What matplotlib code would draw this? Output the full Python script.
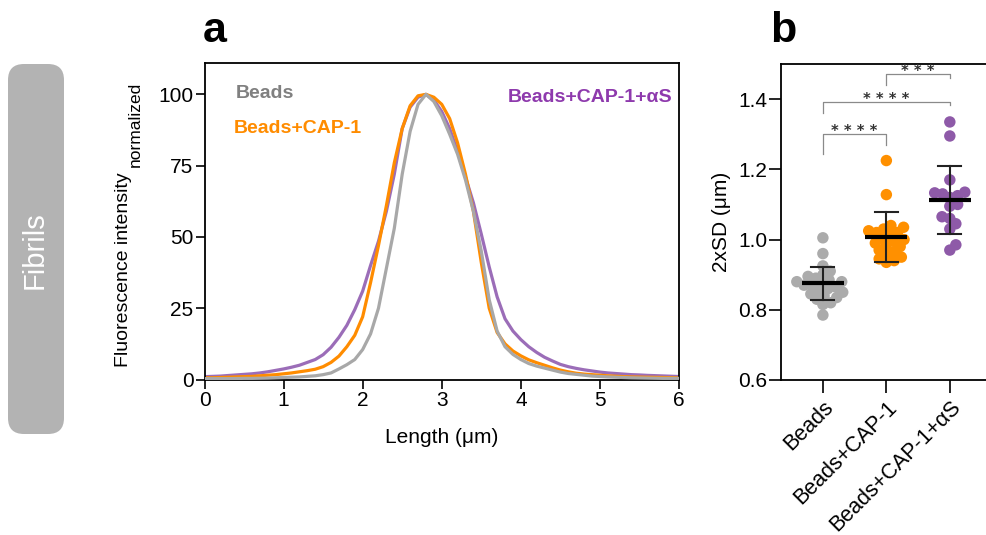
import numpy as np
import matplotlib
matplotlib.use("Agg")
import matplotlib.pyplot as plt
from matplotlib.patches import FancyBboxPatch
from matplotlib.transforms import IdentityTransform

plt.rcParams['font.family'] = ['Liberation Sans', 'DejaVu Sans']

# ---------------- data: panel a (line profiles) ----------------
length_um = [round(0.1 * i, 1) for i in range(61)]

beads = [0.3, 0.3, 0.3, 0.3, 0.35, 0.4, 0.4, 0.45, 0.5, 0.6,
         0.7, 0.8, 0.9, 1.1, 1.3, 1.7, 2.3, 3.7, 5.2, 7.0,
         10.5, 16, 25, 39, 53, 72, 87, 96.5, 100, 97.5,
         92.5, 86, 79, 70, 59, 45, 28, 17, 11.5, 8.8,
         7.0, 5.6, 4.7, 4.0, 3.3, 2.6, 2.1, 1.8, 1.5, 1.2,
         1.05, 0.9, 0.8, 0.7, 0.6, 0.55, 0.5, 0.45, 0.4, 0.4, 0.4]

beads_cap1 = [0.6, 0.6, 0.7, 0.8, 0.9, 1.0, 1.1, 1.3, 1.5, 1.7,
              2.0, 2.3, 2.7, 3.1, 3.6, 4.5, 6.0, 8.2, 11.5, 15.5,
              22, 34, 47, 61, 76, 88, 96, 99.5, 100, 99,
              96.5, 91.5, 83, 72, 59, 41, 25, 16.5, 12.5, 10,
              8.3, 6.9, 5.9, 5.0, 4.1, 3.3, 2.7, 2.2, 1.9, 1.7,
              1.5, 1.3, 1.15, 1.0, 0.9, 0.85, 0.8, 0.75, 0.7, 0.65, 0.6]

beads_cap1_as = [1.0, 1.1, 1.2, 1.4, 1.6, 1.8, 2.0, 2.3, 2.7, 3.2,
                 3.7, 4.3, 5.0, 6.0, 7.0, 8.7, 11.3, 14.8, 19, 24.5,
                 31, 40, 48.5, 59, 72, 88, 95.5, 99, 100, 98,
                 94, 88, 80, 71, 62, 51, 39.5, 29, 21.3, 17.0,
                 14, 11.5, 9.5, 7.8, 6.5, 5.3, 4.5, 3.9, 3.4, 3.0,
                 2.6, 2.3, 2.1, 1.9, 1.7, 1.6, 1.45, 1.35, 1.25, 1.15, 1.05]

# ---------------- data: panel b (2xSD per fibril) ----------------
groups = ['Beads', 'Beads+CAP-1', 'Beads+CAP-1+αS']
sd_beads = [1.005, 0.96, 0.925, 0.91, 0.9, 0.895, 0.89, 0.885, 0.88, 0.88,
            0.875, 0.87, 0.87, 0.865, 0.86, 0.855, 0.85, 0.845, 0.84, 0.835,
            0.83, 0.82, 0.815, 0.785]
sd_cap1 = [1.225, 1.128, 1.04, 1.035, 1.03, 1.025, 1.02, 1.02, 1.015, 1.005,
           1.0, 0.995, 0.99, 0.985, 0.98, 0.97, 0.965, 0.96, 0.95, 0.945,
           0.94, 0.935]
sd_cap1_as = [1.335, 1.295, 1.17, 1.135, 1.133, 1.125, 1.13, 1.12, 1.1, 1.095,
              1.065, 1.06, 1.045, 1.03, 0.985, 0.97]
group_mean = [0.875, 1.007, 1.112]
group_sd = [0.048, 0.071, 0.097]

# significance: (group i, group j, bracket top, left leg end, right leg end, label)
sig_pairs = [(0, 1, 1.300, 1.245, 1.270, '* * * *'),
             (0, 2, 1.393, 1.360, 1.384, '* * * *'),
             (1, 2, 1.471, 1.440, 1.460, '* * *')]

# ---------------- styles ----------------
c_gray_line = '#a8a8a8'
c_orange_line = '#ff8c00'
c_purple_line = '#9b6db8'
c_gray_txt = '#808080'
c_orange_txt = '#ff8c00'
c_purple_txt = '#8e3aad'
dot_colors = ['#ababab', '#ff9000', '#8e5aa8']

W, H = 986, 535
fig = plt.figure(figsize=(W / 100, H / 100), dpi=100)

def fx(px):
    return px / W

def fy(py):
    return 1 - py / H

# Fibrils side box (pixel coordinates, origin bottom-left)
box = FancyBboxPatch((8, H - 434), 56, 434 - 64,
                     boxstyle="round,pad=0,rounding_size=16",
                     transform=IdentityTransform(), facecolor='#b3b3b3',
                     edgecolor='none')
fig.patches.append(box)
fig.text(fx(35), fy(250), 'Fibrils', rotation=90, color='white',
         fontsize=21, ha='center', va='center')

# ---------------- panel a ----------------
axa = fig.add_axes([fx(204.5), fy(379.5), fx(679) - fx(204.5), fy(63) - fy(379.5)])
axa.plot(length_um, beads_cap1_as, color=c_purple_line, lw=2.3, zorder=1)
axa.plot(length_um, beads_cap1, color=c_orange_line, lw=2.3, zorder=2)
axa.plot(length_um, beads, color=c_gray_line, lw=2.3, zorder=3)
axa.set_xlim(0, 6)
axa.set_ylim(0, 111)
axa.set_xticks(range(7))
axa.set_yticks([0, 25, 50, 75, 100])
axa.tick_params(direction='out', length=6.5, width=1.2, labelsize=15, colors='black', pad=1.5)
for sp in axa.spines.values():
    sp.set_linewidth(1.3)
axa.set_xlabel('Length (μm)', fontsize=15, labelpad=13)
axa.text(0.4, 100.3, 'Beads', color=c_gray_txt, fontsize=14, fontweight='bold',
         ha='left', va='center')
axa.text(0.37, 88, 'Beads+CAP-1', color=c_orange_txt, fontsize=14, fontweight='bold',
         ha='left', va='center')
axa.text(5.92, 99, 'Beads+CAP-1+αS', color=c_purple_txt, fontsize=14, fontweight='bold',
         ha='right', va='center')
fig.text(fx(203), fy(42), 'a', fontsize=31, fontweight='bold', ha='left', va='baseline')

# y label of panel a with a separate "normalized" subscript
ylab_main = fig.text(fx(128), fy(367), 'Fluorescence intensity', fontsize=14,
                     rotation=90, rotation_mode='anchor', ha='left', va='baseline')
fig.canvas.draw()
bb = ylab_main.get_window_extent()
fig.text(fx(140), bb.y1 / H + 5 / H, 'normalized', fontsize=12.5,
         rotation=90, rotation_mode='anchor', ha='left', va='baseline')

# ---------------- panel b ----------------
axb = fig.add_axes([fx(781), fy(380), 1 - fx(781), fy(64) - fy(380)])
axb.set_xlim(-0.66, 2.57)
axb.set_ylim(0.6, 1.5)
fig.canvas.draw()

# simple beeswarm in pixel space
def swarm_offsets(values, ax, diam_px):
    pts = [ax.transData.transform((0, v))[1] for v in values]
    order = np.argsort(pts)
    placed = []
    offs = np.zeros(len(values))
    for idx in order:
        y = pts[idx]
        cands = [0.0]
        for (px_, py_) in placed:
            dy = abs(py_ - y)
            if dy < diam_px:
                dx = np.sqrt(diam_px ** 2 - dy ** 2)
                cands += [px_ + dx, px_ - dx]
        cands = sorted(cands, key=abs)
        for c in cands:
            ok = True
            for (px_, py_) in placed:
                if (px_ - c) ** 2 + (py_ - y) ** 2 < diam_px ** 2 - 1e-6:
                    ok = False
                    break
            if ok:
                offs[idx] = c
                placed.append((c, y))
                break
    x0 = ax.transData.transform((0, 0))[0]
    x1 = ax.transData.transform((1, 0))[0]
    return offs / (x1 - x0)

all_groups = [sd_beads, sd_cap1, sd_cap1_as]
for i, vals in enumerate(all_groups):
    off = swarm_offsets(vals, axb, 8.0)
    axb.scatter(i + off, vals, s=68, color=dot_colors[i], edgecolors='none', zorder=2)
    m, s = group_mean[i], group_sd[i]
    axb.plot([i - 0.33, i + 0.33], [m, m], color='black', lw=3.0, zorder=4,
             solid_capstyle='butt')
    axb.plot([i, i], [m - s, m + s], color='#222222', lw=1.5, zorder=3)
    for yv in (m - s, m + s):
        axb.plot([i - 0.18, i + 0.18], [yv, yv], color='#222222', lw=1.5, zorder=3)

for (a, b, top, la, lb, lab) in sig_pairs:
    axb.plot([a, a, b, b], [la, top, top, lb], color='#8a8a8a', lw=0.9, zorder=1)
    axb.annotate(lab, xy=((a + b) / 2, top), xytext=(0, -1.5), textcoords='offset points',
                 ha='center', va='baseline', fontsize=10.5, color='#333333',
                 family='DejaVu Sans', fontweight='bold')

axb.set_xticks([0, 1, 2])
axb.set_xticklabels(groups, rotation=45, ha='right', rotation_mode='anchor')
axb.set_yticks([0.6, 0.8, 1.0, 1.2, 1.4])
axb.set_yticklabels(['0.6', '0.8', '1.0', '1.2', '1.4'])
axb.tick_params(axis='x', direction='out', length=9, width=1.2, labelsize=15.5, pad=3)
axb.tick_params(axis='y', direction='out', length=9, width=1.2, labelsize=15, pad=1)
axb.spines['right'].set_visible(False)
for sp in ['left', 'top', 'bottom']:
    axb.spines[sp].set_linewidth(1.3)
axb.set_ylabel('2xSD (μm)', fontsize=15, labelpad=5)
fig.text(fx(770), fy(42), 'b', fontsize=31, fontweight='bold', ha='left', va='baseline')

fig.savefig('out.png', dpi=100)
